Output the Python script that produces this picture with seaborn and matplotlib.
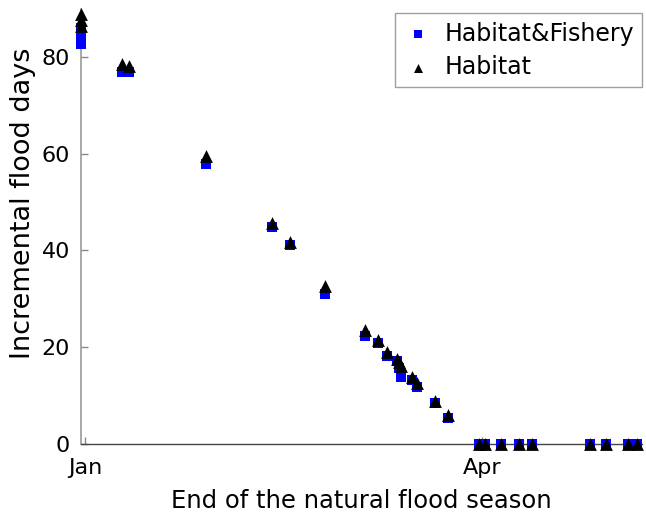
import matplotlib
matplotlib.use("Agg")
import matplotlib.pyplot as plt
import seaborn as sns
import pandas as pd

# days since Jan 1 (end of the natural flood season)
days = [-1, -1, -1, 8.4, 9.9, 27.4, 42.4, 46.5, 54.4, 63.5, 66.4, 68.5, 70.7, 71.2,
        71.6, 74.1, 75.3, 79.4, 82.3, 89.3, 90.7, 94.3, 98.3, 101.3, 114.4, 118.1,
        123.2, 125.2]
habitat_fishery = [82.7, 84.3, 86.0, 76.8, 76.8, 57.9, 44.8, 41.1, 31.0, 22.3, 20.9,
                   18.2, 17.1, 15.7, 13.8, 13.2, 11.8, 8.5, 5.4, 0, 0, 0, 0, 0, 0, 0, 0, 0]
habitat = [86.4, 87.6, 88.8, 78.5, 78.2, 59.5, 45.7, 41.7, 32.6, 23.6, 21.5, 19.0,
           17.6, 16.9, 16.1, 13.8, 12.6, 8.9, 6.0, 0, 0, 0, 0, 0, 0, 0, 0, 0]
tick_days = [0, 90]
tick_labels = ["Jan", "Apr"]
series_names = ["Habitat&Fishery", "Habitat"]

sns.set_style("white")
plt.rcParams['font.family'] = ['DejaVu Sans']
plt.rcParams['text.color'] = 'black'
plt.rcParams['axes.labelcolor'] = 'black'
plt.rcParams['xtick.labelcolor'] = 'black'
plt.rcParams['ytick.labelcolor'] = 'black'

df = pd.DataFrame({
    "day": days * 2,
    "value": habitat_fishery + habitat,
    "series": [series_names[0]] * len(days) + [series_names[1]] * len(days),
})

fig = plt.figure(figsize=(6.46, 5.19), dpi=100)
ax = fig.add_axes([0.1254, 0.1445, 0.8686, 0.839])

sns.scatterplot(data=df[df.series == series_names[0]], x="day", y="value",
                color="#0000ff", marker="s", s=55, linewidth=0, ax=ax,
                label=series_names[0], clip_on=False, zorder=3)
sns.scatterplot(data=df[df.series == series_names[1]], x="day", y="value",
                color="black", marker="^", s=85, linewidth=0, ax=ax,
                label=series_names[1], clip_on=False, zorder=4)

ax.set_xlim(-0.9, 126.3)
ax.set_ylim(0, 90)
ax.set_xticks(tick_days)
ax.set_xticklabels(tick_labels)
ax.set_yticks([0, 20, 40, 60, 80])
ax.tick_params(axis="both", direction="in", length=5, width=1, color="#888888",
               labelsize=16, bottom=True, left=True)
ax.tick_params(axis="x", pad=10)
ax.tick_params(axis="y", pad=8)
for s in ["top", "right"]:
    ax.spines[s].set_visible(False)
ax.spines["left"].set_color("#999999")
ax.spines["bottom"].set_color("#444444")
ax.spines["left"].set_linewidth(1.2)
ax.spines["bottom"].set_linewidth(1.0)

ax.set_xlabel("End of the natural flood season", fontsize=17.5, labelpad=8)
ax.set_ylabel("Incremental flood days", fontsize=19.5)
ax.yaxis.set_label_coords(-0.08, 0.553)

leg = ax.legend(loc="upper right", fontsize=17, frameon=True, fancybox=False,
                markerscale=0.7, handletextpad=0.45, handlelength=1.3,
                borderpad=0.35, labelspacing=0.4, borderaxespad=0,
                bbox_to_anchor=(1.0, 0.989))
leg.get_frame().set_edgecolor("#888888")
leg.get_frame().set_linewidth(1.0)

fig.savefig("out.png", dpi=100)
